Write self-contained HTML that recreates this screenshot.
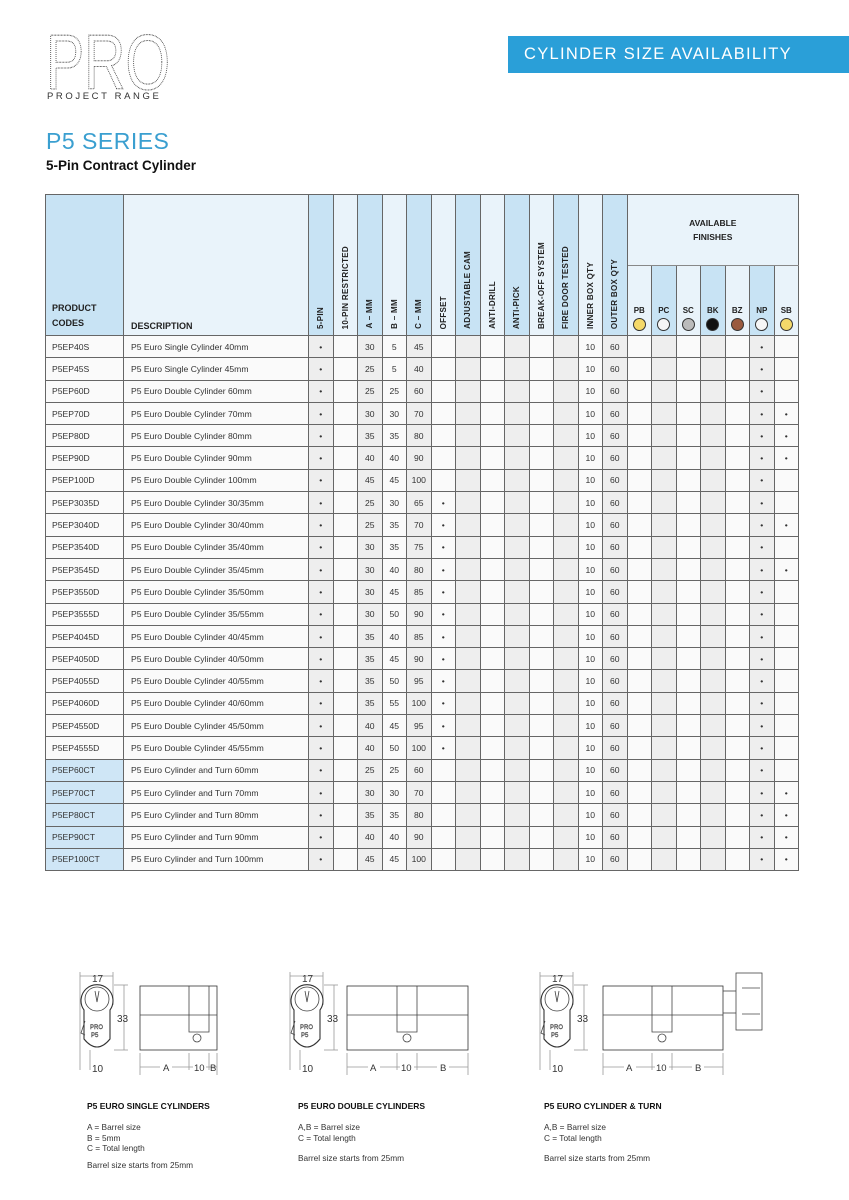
<!DOCTYPE html>
<html><head><meta charset="utf-8"><style>
*{margin:0;padding:0;box-sizing:border-box}
body{width:849px;height:1200px;background:#fff;position:relative;font-family:"Liberation Sans",sans-serif;overflow:hidden;color:#222}
.abs{position:absolute}
table{position:absolute;left:45px;top:194px;border-collapse:collapse;table-layout:fixed;width:753px}
td,th{border:1px solid #666;font-size:8.6px;padding:0;text-align:center;height:22.3px;color:#333}
th{font-weight:bold;font-size:8px;color:#222;vertical-align:bottom}
.b{background:#c8e3f4}.l{background:#e9f3fa}
.g{background:#eeeeee}.w{background:#fafafa}
td.c1{text-align:left;padding-left:6px}
td.c2{text-align:left;padding-left:7px}
.v{writing-mode:vertical-rl;transform:rotate(180deg);white-space:nowrap;margin:0 auto 6px;letter-spacing:.3px}
.dot{display:block;width:13px;height:13px;border-radius:50%;border:1px solid #333;margin:3px auto 4px}
.cb{background:#cfe6f6 !important}
</style></head><body>
<svg class="abs" style="left:40px;top:25px" width="140" height="80"><text x="6" y="64" font-family="Liberation Sans" font-size="78" fill="#fff" stroke="#444" stroke-width="1.1" stroke-dasharray="1 1" textLength="124" lengthAdjust="spacingAndGlyphs">PRO</text></svg>
<div class="abs" style="left:47px;top:91px;font-size:9.5px;letter-spacing:2.6px;color:#333">PROJECT RANGE</div>
<div class="abs" style="left:508px;top:36px;width:341px;height:37px;background:#2a9fd8;color:#fff;font-size:16.5px;letter-spacing:1.3px;line-height:37px;padding-left:16px">CYLINDER SIZE AVAILABILITY</div>
<div class="abs" style="left:46px;top:128px;font-size:23px;color:#3a9fd0;letter-spacing:.5px">P5 SERIES</div>
<div class="abs" style="left:46px;top:158px;font-size:13.5px;font-weight:bold;color:#111">5-Pin Contract Cylinder</div>
<table>
<colgroup><col style="width:78px"><col style="width:185px"><col span="20" style="width:24.5px"></colgroup>
<tr style="height:71px">
<th rowspan="2" class="b" style="text-align:left;padding:0 0 4px 6px;line-height:15px;font-size:9px">PRODUCT<br>CODES</th>
<th rowspan="2" class="l" style="text-align:left;padding:0 0 4px 7px;font-size:9px">DESCRIPTION</th>
<th rowspan="2" class="b"><div class="v">5-PIN</div></th>
<th rowspan="2" class="l"><div class="v">10-PIN RESTRICTED</div></th>
<th rowspan="2" class="b"><div class="v">A – MM</div></th>
<th rowspan="2" class="l"><div class="v">B – MM</div></th>
<th rowspan="2" class="b"><div class="v">C – MM</div></th>
<th rowspan="2" class="l"><div class="v">OFFSET</div></th>
<th rowspan="2" class="b"><div class="v">ADJUSTABLE CAM</div></th>
<th rowspan="2" class="l"><div class="v">ANTI-DRILL</div></th>
<th rowspan="2" class="b"><div class="v">ANTI-PICK</div></th>
<th rowspan="2" class="l"><div class="v">BREAK-OFF SYSTEM</div></th>
<th rowspan="2" class="b"><div class="v">FIRE DOOR TESTED</div></th>
<th rowspan="2" class="l"><div class="v">INNER BOX QTY</div></th>
<th rowspan="2" class="b"><div class="v">OUTER BOX QTY</div></th>
<th colspan="7" class="l" style="vertical-align:middle;line-height:14px;border-bottom:1px solid #888;font-size:8.5px">AVAILABLE<br>FINISHES</th>
</tr>
<tr style="height:70px">
<th class="l">PB<span class="dot" style="background:#f4d96a"></span></th>
<th class="b">PC<span class="dot" style="background:#f6f6f6"></span></th>
<th class="l">SC<span class="dot" style="background:#bbb"></span></th>
<th class="b">BK<span class="dot" style="background:#111"></span></th>
<th class="l">BZ<span class="dot" style="background:#9a5a3f"></span></th>
<th class="b">NP<span class="dot" style="background:#f6f6f6"></span></th>
<th class="l">SB<span class="dot" style="background:#f4d96a"></span></th>
</tr>
<tbody id="tb"></tbody>
</table>
<script>
var rows=[
["P5EP40S","P5 Euro Single Cylinder 40mm",30,5,45,0,0],
["P5EP45S","P5 Euro Single Cylinder 45mm",25,5,40,0,0],
["P5EP60D","P5 Euro Double Cylinder 60mm",25,25,60,0,0],
["P5EP70D","P5 Euro Double Cylinder 70mm",30,30,70,0,1],
["P5EP80D","P5 Euro Double Cylinder 80mm",35,35,80,0,1],
["P5EP90D","P5 Euro Double Cylinder 90mm",40,40,90,0,1],
["P5EP100D","P5 Euro Double Cylinder 100mm",45,45,100,0,0],
["P5EP3035D","P5 Euro Double Cylinder 30/35mm",25,30,65,1,0],
["P5EP3040D","P5 Euro Double Cylinder 30/40mm",25,35,70,1,1],
["P5EP3540D","P5 Euro Double Cylinder 35/40mm",30,35,75,1,0],
["P5EP3545D","P5 Euro Double Cylinder 35/45mm",30,40,80,1,1],
["P5EP3550D","P5 Euro Double Cylinder 35/50mm",30,45,85,1,0],
["P5EP3555D","P5 Euro Double Cylinder 35/55mm",30,50,90,1,0],
["P5EP4045D","P5 Euro Double Cylinder 40/45mm",35,40,85,1,0],
["P5EP4050D","P5 Euro Double Cylinder 40/50mm",35,45,90,1,0],
["P5EP4055D","P5 Euro Double Cylinder 40/55mm",35,50,95,1,0],
["P5EP4060D","P5 Euro Double Cylinder 40/60mm",35,55,100,1,0],
["P5EP4550D","P5 Euro Double Cylinder 45/50mm",40,45,95,1,0],
["P5EP4555D","P5 Euro Double Cylinder 45/55mm",40,50,100,1,0],
["P5EP60CT","P5 Euro Cylinder and Turn 60mm",25,25,60,0,0],
["P5EP70CT","P5 Euro Cylinder and Turn 70mm",30,30,70,0,1],
["P5EP80CT","P5 Euro Cylinder and Turn 80mm",35,35,80,0,1],
["P5EP90CT","P5 Euro Cylinder and Turn 90mm",40,40,90,0,1],
["P5EP100CT","P5 Euro Cylinder and Turn 100mm",45,45,100,0,1]];
var h="";
rows.forEach(function(r,i){
 var ct=i>=19;
 var v=["","","•","",r[2],r[3],r[4],r[5]?"•":"","","","","","","10","60","","","","","","•",r[6]?"•":""];
 h+="<tr>";
 for(var c=0;c<22;c++){
  var cls=(c%2==0)?"g":"w";
  if(c==0){cls=ct?"g cb c1":"w c1";}
  if(c==1)cls="w c2";
  h+='<td class="'+cls+'">'+(c==0?r[0]:c==1?r[1]:v[c])+"</td>";
 }
 h+="</tr>";
});
document.getElementById("tb").innerHTML=h;
</script>
<svg class="abs" style="left:0;top:955px" width="849" height="120" font-family="Liberation Sans" font-size="9" fill="none" stroke="#444" stroke-width="0.8">
<defs>
<g id="prof">
<line x1="0" y1="21" x2="33" y2="21" stroke="#999"/><line x1="0" y1="17" x2="0" y2="115" stroke="#999"/><line x1="33" y1="17" x2="33" y2="50" stroke="#999"/>
<line x1="34" y1="30" x2="48" y2="30" stroke="#999"/><line x1="34" y1="95" x2="48" y2="95" stroke="#999"/><line x1="44" y1="30" x2="44" y2="95" stroke="#999"/>
<line x1="10" y1="95" x2="10" y2="115" stroke="#999"/>
<path d="M4 55 A16 16 0 1 1 30 55 L30 84 Q17 100 4 84 Z" stroke="#333" stroke-width="1.1"/>
<circle cx="17" cy="44" r="12"/>
<path d="M5 66 L1 78 L5 80"/>
<path d="M15 36 L17 47 L19 36"/>
<text x="10" y="74" font-size="6" stroke-width="0.4">PRO</text><text x="11" y="82" font-size="6" stroke-width="0.4">P5</text>
</g>
</defs>
<g transform="translate(80,0)"><use href="#prof"/></g>
<g transform="translate(290,0)"><use href="#prof"/></g>
<g transform="translate(540,0)"><use href="#prof"/></g>
<g fill="#333" stroke="none" font-size="10">
<text x="92" y="27">17</text><text x="302" y="27">17</text><text x="552" y="27">17</text>
<text x="117" y="67">33</text><text x="327" y="67">33</text><text x="577" y="67">33</text>
<text x="92" y="117">10</text><text x="302" y="117">10</text><text x="552" y="117">10</text>
</g>
<rect x="140" y="31" width="77" height="64" stroke="#333"/><line x1="140" y1="60" x2="217" y2="60"/>
<path d="M189 31 V77 H209 V31"/><circle cx="197" cy="83" r="4"/>
<line x1="140" y1="98" x2="140" y2="130" stroke="#999"/><line x1="189" y1="98" x2="189" y2="115" stroke="#999"/><line x1="209" y1="98" x2="209" y2="115" stroke="#999"/><line x1="217" y1="98" x2="217" y2="130" stroke="#999"/>
<line x1="140" y1="112" x2="217" y2="112" stroke="#999"/><line x1="140" y1="127" x2="217" y2="127" stroke="#999"/>
<rect x="347" y="31" width="121" height="64" stroke="#333"/><line x1="347" y1="60" x2="468" y2="60"/>
<path d="M397 31 V77 H417 V31"/><circle cx="407" cy="83" r="4"/>
<line x1="347" y1="98" x2="347" y2="130" stroke="#999"/><line x1="397" y1="98" x2="397" y2="115" stroke="#999"/><line x1="417" y1="98" x2="417" y2="115" stroke="#999"/><line x1="468" y1="98" x2="468" y2="130" stroke="#999"/>
<line x1="347" y1="112" x2="468" y2="112" stroke="#999"/><line x1="347" y1="127" x2="468" y2="127" stroke="#999"/>
<rect x="603" y="31" width="120" height="64" stroke="#333"/><line x1="603" y1="60" x2="723" y2="60"/>
<path d="M652 31 V77 H672 V31"/><circle cx="662" cy="83" r="4"/>
<rect x="736" y="18" width="26" height="57"/><line x1="723" y1="36" x2="736" y2="36"/><line x1="723" y1="58" x2="736" y2="58"/>
<line x1="742" y1="33" x2="760" y2="33"/><line x1="742" y1="59" x2="760" y2="59"/>
<line x1="603" y1="98" x2="603" y2="130" stroke="#999"/><line x1="652" y1="98" x2="652" y2="115" stroke="#999"/><line x1="672" y1="98" x2="672" y2="115" stroke="#999"/><line x1="723" y1="98" x2="723" y2="130" stroke="#999"/>
<line x1="603" y1="112" x2="723" y2="112" stroke="#999"/><line x1="603" y1="127" x2="723" y2="127" stroke="#999"/>
<g fill="#333" stroke="none" font-size="9.5">
<rect x="160" y="106" width="12" height="12" fill="#fff"/><text x="163" y="116">A</text>
<rect x="193" y="106" width="13" height="12" fill="#fff"/><text x="194" y="116">10</text><text x="210" y="116">B</text>
<rect x="173" y="121" width="10" height="12" fill="#fff"/><text x="175" y="131">C</text>
<rect x="368" y="106" width="12" height="12" fill="#fff"/><text x="370" y="116">A</text>
<rect x="400" y="106" width="14" height="12" fill="#fff"/><text x="401" y="116">10</text>
<rect x="437" y="106" width="12" height="12" fill="#fff"/><text x="440" y="116">B</text>
<rect x="402" y="121" width="10" height="12" fill="#fff"/><text x="404" y="131">C</text>
<rect x="624" y="106" width="12" height="12" fill="#fff"/><text x="626" y="116">A</text>
<rect x="655" y="106" width="14" height="12" fill="#fff"/><text x="656" y="116">10</text>
<rect x="692" y="106" width="12" height="12" fill="#fff"/><text x="695" y="116">B</text>
<rect x="657" y="121" width="10" height="12" fill="#fff"/><text x="659" y="131">C</text>
</g>
</svg>
<div class="abs" style="left:87px;top:1101px;font-size:8.5px;font-weight:bold;color:#111">P5 EURO SINGLE CYLINDERS</div>
<div class="abs" style="left:87px;top:1122px;font-size:8.3px;line-height:10.5px;color:#333">A = Barrel size<br>B = 5mm<br>C = Total length</div>
<div class="abs" style="left:87px;top:1160px;font-size:8.3px;color:#333">Barrel size starts from 25mm</div>
<div class="abs" style="left:298px;top:1101px;font-size:8.5px;font-weight:bold;color:#111">P5 EURO DOUBLE CYLINDERS</div>
<div class="abs" style="left:298px;top:1122px;font-size:8.3px;line-height:10.5px;color:#333">A,B = Barrel size<br>C = Total length</div>
<div class="abs" style="left:298px;top:1153px;font-size:8.3px;color:#333">Barrel size starts from 25mm</div>
<div class="abs" style="left:544px;top:1101px;font-size:8.5px;font-weight:bold;color:#111">P5 EURO CYLINDER &amp; TURN</div>
<div class="abs" style="left:544px;top:1122px;font-size:8.3px;line-height:10.5px;color:#333">A,B = Barrel size<br>C = Total length</div>
<div class="abs" style="left:544px;top:1153px;font-size:8.3px;color:#333">Barrel size starts from 25mm</div>
</body></html>
